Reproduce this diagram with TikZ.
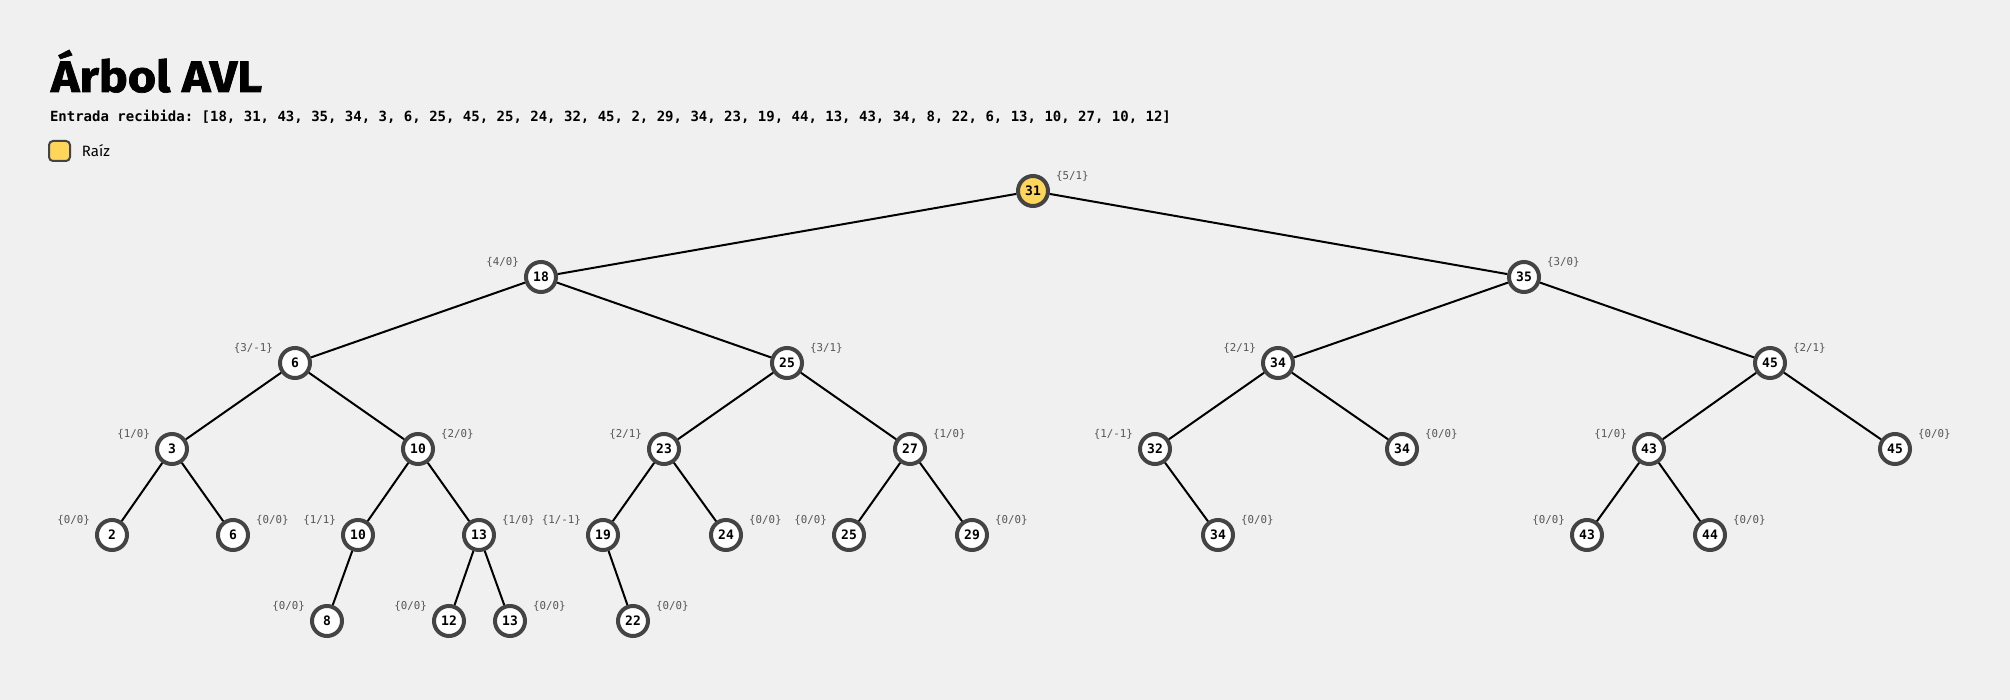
\documentclass[tikz,border=0pt]{standalone}
\usepackage{fontspec}
\setmainfont{DejaVu Sans}
\setmonofont{DejaVu Sans Mono}
\newfontfamily\titlefont{Fira Sans}[BoldFeatures={FakeBold=1.5}]
\usepackage{tikz}
\definecolor{bgcol}{HTML}{F0F0F0}
\definecolor{ringcol}{HTML}{444444}
\definecolor{rootcol}{HTML}{FFD55A}
\definecolor{balcol}{HTML}{555555}
\tikzstyle{Key}=[circle, minimum size=15pt, inner sep=0pt, line width=2pt, draw=ringcol, fill=white, font=\ttfamily\bfseries\fontsize{6.5}{7}\selectfont]
\tikzstyle{Root}=[Key, fill=rootcol]
\tikzstyle{BalR}=[anchor=west, inner sep=0pt, xshift=5pt, yshift=1.5pt, text=balcol, font=\ttfamily\fontsize{5.4}{6}\selectfont]
\tikzstyle{BalL}=[anchor=east, inner sep=0pt, xshift=-4.5pt, yshift=1.5pt, text=balcol, font=\ttfamily\fontsize{5.4}{6}\selectfont]

\begin{document}
\begin{tikzpicture}[x=0.5pt, y=-0.5pt, line width=1pt]
    \useasboundingbox (0,0) rectangle (2010,700);
    \fill[bgcol] (0,0) rectangle (2010,700);

    \path (50,92) node[anchor=base west, inner sep=0pt, font=\titlefont\bfseries\fontsize{22}{24}\selectfont] (title) {\scalebox{1.1}[1]{Árbol AVL}}
    (49,122) node[anchor=base west, inner sep=0pt, font=\ttfamily\bfseries\fontsize{7}{8}\selectfont] (input) {Entrada recibida: [18, 31, 43, 35, 34, 3, 6, 25, 45, 25, 24, 32, 45, 2, 29, 34, 23, 19, 44, 13, 43, 34, 8, 22, 6, 13, 10, 27, 10, 12]};
    \draw[fill=rootcol, draw=ringcol, line width=1pt, rounded corners=2pt] (49,141) rectangle (70,161);
    \path (81,151) node[anchor=west, inner sep=0pt, font=\titlefont\fontsize{7.5}{8}\selectfont] (legend) {Raíz};

    \path
    (1033,191) node[Root] (n31) {31}
    (541,277) node[Key] (n18) {18}
    (1524,277) node[Key] (n35) {35}
    (295,363) node[Key] (n6a) {6}
    (787,363) node[Key] (n25a) {25}
    (1278,363) node[Key] (n34a) {34}
    (1770,363) node[Key] (n45a) {45}
    (172,449) node[Key] (n3) {3}
    (418,449) node[Key] (n10a) {10}
    (664,449) node[Key] (n23) {23}
    (910,449) node[Key] (n27) {27}
    (1155,449) node[Key] (n32) {32}
    (1402,449) node[Key] (n34b) {34}
    (1649,449) node[Key] (n43a) {43}
    (1895,449) node[Key] (n45b) {45}
    (112,535) node[Key] (n2) {2}
    (233,535) node[Key] (n6b) {6}
    (358,535) node[Key] (n10b) {10}
    (479,535) node[Key] (n13a) {13}
    (603,535) node[Key] (n19) {19}
    (726,535) node[Key] (n24) {24}
    (849,535) node[Key] (n25b) {25}
    (972,535) node[Key] (n29) {29}
    (1218,535) node[Key] (n34c) {34}
    (1587,535) node[Key] (n43b) {43}
    (1710,535) node[Key] (n44) {44}
    (327,621) node[Key] (n8) {8}
    (449,621) node[Key] (n12) {12}
    (510,621) node[Key] (n13b) {13}
    (633,621) node[Key] (n22) {22};

    % balance labels {height/factor}
    \draw (n31.north east) node[BalR] {\{5/1\}};
    \draw (n18.north west) node[BalL] {\{4/0\}};
    \draw (n35.north east) node[BalR] {\{3/0\}};
    \draw (n6a.north west) node[BalL] {\{3/-1\}};
    \draw (n25a.north east) node[BalR] {\{3/1\}};
    \draw (n34a.north west) node[BalL] {\{2/1\}};
    \draw (n45a.north east) node[BalR] {\{2/1\}};
    \draw (n3.north west) node[BalL] {\{1/0\}};
    \draw (n10a.north east) node[BalR] {\{2/0\}};
    \draw (n23.north west) node[BalL] {\{2/1\}};
    \draw (n27.north east) node[BalR] {\{1/0\}};
    \draw (n32.north west) node[BalL] {\{1/-1\}};
    \draw (n34b.north east) node[BalR] {\{0/0\}};
    \draw (n43a.north west) node[BalL] {\{1/0\}};
    \draw (n45b.north east) node[BalR] {\{0/0\}};
    \draw (n2.north west) node[BalL] {\{0/0\}};
    \draw (n6b.north east) node[BalR] {\{0/0\}};
    \draw (n10b.north west) node[BalL] {\{1/1\}};
    \draw (n13a.north east) node[BalR] {\{1/0\}};
    \draw (n19.north west) node[BalL] {\{1/-1\}};
    \draw (n24.north east) node[BalR] {\{0/0\}};
    \draw (n25b.north west) node[BalL] {\{0/0\}};
    \draw (n29.north east) node[BalR] {\{0/0\}};
    \draw (n34c.north east) node[BalR] {\{0/0\}};
    \draw (n43b.north west) node[BalL] {\{0/0\}};
    \draw (n44.north east) node[BalR] {\{0/0\}};
    \draw (n8.north west) node[BalL] {\{0/0\}};
    \draw (n12.north west) node[BalL] {\{0/0\}};
    \draw (n13b.north east) node[BalR] {\{0/0\}};
    \draw (n22.north east) node[BalR] {\{0/0\}};

    \draw (n18) -- (n31) -- (n35);
    \draw (n6a) -- (n18) -- (n25a);
    \draw (n34a) -- (n35) -- (n45a);
    \draw (n3) -- (n6a) -- (n10a);
    \draw (n23) -- (n25a) -- (n27);
    \draw (n32) -- (n34a) -- (n34b);
    \draw (n43a) -- (n45a) -- (n45b);
    \draw (n2) -- (n3) -- (n6b);
    \draw (n10b) -- (n10a) -- (n13a);
    \draw (n19) -- (n23) -- (n24);
    \draw (n25b) -- (n27) -- (n29);
    \draw (n32) -- (n34c);
    \draw (n43b) -- (n43a) -- (n44);
    \draw (n10b) -- (n8);
    \draw (n12) -- (n13a) -- (n13b);
    \draw (n19) -- (n22);
\end{tikzpicture}
\end{document}
